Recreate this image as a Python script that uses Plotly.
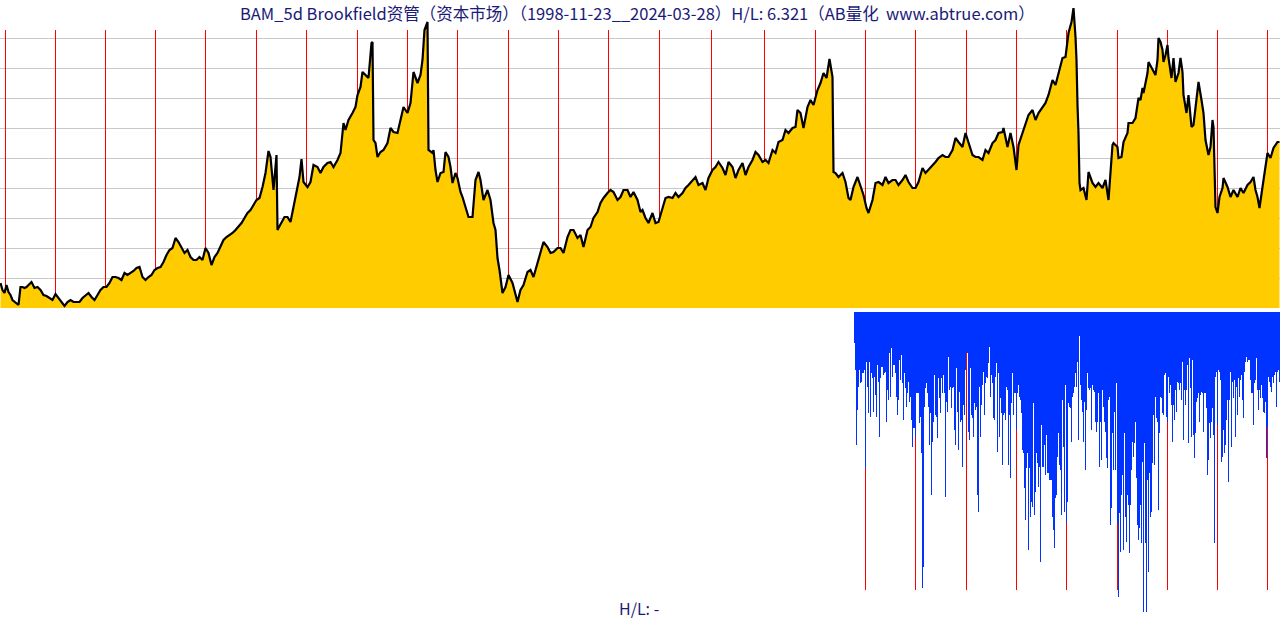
import plotly.graph_objects as go

# ---------------- data ----------------
# upper panel: 5-day bar index (0..1279) and price-index level
bar_idx = [0, 2, 4, 6, 8, 10, 12, 14, 16, 18, 20, 22, 24, 26, 28, 31, 34, 37, 40, 43, 46, 49, 52, 55, 58, 61, 64, 67, 70, 73, 76, 79, 82, 85, 88, 91, 94, 97, 100, 103, 106, 109, 112, 115, 118, 121, 124, 127, 130, 133, 136, 139, 142, 145, 148, 151, 154, 157, 160, 163, 166, 169, 172, 175, 178, 181, 184, 187, 190, 193, 196, 199, 202, 205, 208, 211, 214, 217, 220, 223, 226, 229, 232, 235, 238, 241, 244, 247, 250, 253, 256, 259, 262, 265, 268, 270, 273, 276, 277, 278, 281, 284, 287, 290, 293, 296, 299,
           301, 303, 307, 310, 313, 317, 320, 323, 327, 330, 333, 337, 340, 343, 345, 348, 352, 355, 357, 360, 362, 365, 368, 371, 372, 373, 375, 377, 380, 383, 387, 390, 393, 397, 400, 403, 407, 410, 413, 417, 420, 422, 424, 427, 428, 432, 433, 435, 437, 440, 443, 445, 448, 450, 452, 455, 457, 460, 462, 465, 468, 472, 475, 478, 480, 483, 487, 490, 493, 495, 497, 499,
           502, 505, 508, 512, 515, 517, 520, 523, 527, 530, 533, 537, 540, 543, 547, 550, 553, 557, 560, 563, 567, 570, 573, 577, 580, 583, 587, 590, 593, 597, 600, 603, 607, 610, 613, 617, 620, 623, 627, 630, 633, 637, 640, 642, 645, 648, 652, 655, 658, 662, 665, 668, 672, 675, 678, 682, 685, 688, 692, 695, 698,
           702, 705, 708, 712, 715, 718, 722, 725, 728, 732, 735, 738, 742, 745, 748, 752, 755, 758, 762, 765, 768, 772, 775, 778, 782, 785, 788, 792, 795, 797, 800, 803, 807, 810, 813, 817, 820, 823, 826, 829, 832, 833, 835, 838, 842, 845, 848, 850, 853, 857, 860, 863, 866, 868, 872, 875, 878, 882, 885, 888, 892, 895, 898,
           902, 905, 908, 912, 915, 918, 922, 925, 928, 932, 935, 938, 942, 945, 948, 952, 955, 958, 962, 965, 968, 972, 975, 978, 982, 985, 988, 992, 995, 998, 1002, 1003, 1007, 1010, 1013, 1016, 1018, 1022, 1025, 1028, 1032, 1035, 1038, 1042, 1045, 1048, 1052, 1055, 1058, 1062, 1065, 1068, 1071, 1073, 1075, 1076, 1077, 1078, 1079, 1080, 1083, 1086, 1088, 1092, 1095,
           1098, 1102, 1105, 1108, 1110, 1112, 1113, 1117, 1118, 1121, 1123, 1127, 1128, 1132, 1135, 1138, 1140, 1142, 1143, 1147, 1148, 1152, 1155, 1157, 1158, 1160, 1162, 1163, 1165, 1167, 1168, 1171, 1173, 1175, 1178, 1180, 1182, 1183, 1186, 1188, 1191, 1193, 1195, 1197, 1198, 1201, 1203, 1205, 1208, 1210, 1212, 1213, 1215, 1217, 1219, 1222, 1223, 1227, 1230, 1233, 1237, 1240, 1243, 1247, 1250, 1253, 1255, 1257, 1259, 1262, 1264, 1267, 1270, 1273, 1277, 1279]

price_level = [25, 18, 15, 23, 16, 13, 8, 6, 5, 3, 21, 21, 20, 21, 23, 26, 20, 21, 18, 13, 12, 10, 8, 14, 10, 5, 2, 6, 8, 6, 6, 6, 10, 13, 15, 11, 8, 13, 18, 21, 21, 25, 31, 31, 30, 28, 35, 33, 35, 37, 40, 41, 31, 28, 31, 33, 38, 40, 41, 46, 53, 58, 60, 70, 66, 61, 55, 58, 51, 48, 48, 51, 48, 60, 55, 43, 51, 55, 61, 68, 71, 73, 75, 78, 81, 85, 90, 95, 98, 103, 108, 110, 121, 135, 157, 151, 118, 153, 78, 80, 85, 91, 91, 86, 101, 115, 131,
               149, 126, 121, 126, 143, 141, 135, 141, 145, 146, 141, 148, 155, 185, 178, 188, 195, 201, 213, 221, 236, 233, 230, 265, 266, 168, 165, 151, 156, 158, 165, 180, 176, 175, 188, 201, 195, 205, 236, 225, 233, 248, 278, 286, 158, 155, 158, 138, 126, 135, 136, 156, 151, 141, 125, 135, 130, 116, 111, 101, 91, 91, 128, 136, 128, 108, 118, 108, 85, 78, 50, 38,
               15, 21, 33, 25, 15, 6, 18, 23, 36, 38, 31, 45, 55, 66, 61, 55, 56, 60, 60, 55, 71, 78, 78, 70, 73, 61, 78, 81, 90, 96, 105, 110, 115, 118, 116, 108, 111, 118, 118, 111, 116, 108, 96, 98, 90, 85, 95, 85, 86, 101, 110, 111, 110, 115, 111, 115, 120, 123, 128, 131, 123,
               125, 118, 130, 138, 141, 146, 140, 133, 146, 141, 130, 138, 145, 133, 141, 148, 156, 153, 146, 148, 145, 158, 155, 166, 168, 178, 175, 180, 181, 198, 195, 180, 201, 208, 203, 218, 225, 235, 230, 249, 231, 136, 135, 131, 135, 126, 110, 108, 121, 131, 121, 113, 100, 95, 108, 125, 126, 123, 131, 125, 128, 128, 123,
               128, 133, 126, 120, 120, 126, 140, 135, 138, 143, 146, 150, 153, 151, 151, 158, 170, 166, 161, 175, 166, 153, 151, 151, 148, 158, 155, 165, 168, 175, 176, 180, 161, 175, 161, 138, 163, 175, 185, 193, 198, 188, 195, 201, 205, 213, 228, 223, 236, 250, 251, 275, 286, 300, 271, 248, 203, 175, 125, 118, 120, 108, 136, 125, 121,
               125, 120, 128, 108, 135, 163, 165, 161, 150, 151, 166, 175, 185, 185, 190, 210, 208, 220, 215, 235, 246, 238, 233, 248, 270, 266, 258, 246, 253, 263, 250, 230, 250, 226, 235, 250, 236, 213, 195, 213, 181, 183, 201, 213, 226, 208, 195, 168, 153, 161, 188, 181, 101, 95, 111, 120, 130, 121, 111, 118, 111, 120, 115, 123, 126, 131, 118, 111, 100, 121, 133, 155, 150, 160, 166, 166]

# lower panel: per-bar values (depth below zero), starting at bar 854
lower_start = 854
lower_depth = [31, 58, 133, 98, 75, 58, 71, 70, 61, 61,
               58, 156, 50, 75, 101, 50, 105, 61, 66, 100,
               65, 83, 105, 53, 70, 125, 66, 55, 55, 63,
               61, 60, 110, 78, 88, 41, 85, 36, 65, 53,
               53, 61, 85, 103, 88, 48, 68, 43, 71, 108,
               61, 76, 95, 81, 70, 90, 85, 108, 135, 116,
               116, 125, 81, 81, 81, 111, 105, 141, 276, 255,
               95, 76, 71, 81, 95, 133, 101, 183, 130, 110,
               63, 103, 105, 126, 66, 86, 101, 66, 81, 63,
               81, 185, 90, 100, 45, 78, 75, 96, 76, 75,
               118, 133, 56, 100, 138, 80, 110, 108, 155, 93,
               103, 58, 41, 41, 120, 128, 56, 103, 106, 125,
               91, 98, 95, 183, 200, 75, 125, 93, 73, 60,
               103, 71, 65, 66, 51, 35, 85, 63, 71, 106,
               108, 65, 51, 140, 61, 125, 86, 101, 153, 103,
               101, 108, 75, 78, 153, 103, 166, 91, 61, 103,
               81, 81, 118, 81, 73, 85, 88, 101, 138, 141,
               176, 208, 156, 141, 238, 156, 205, 190, 195, 91,
               203, 180, 141, 151, 175, 155, 250, 113, 155, 155,
               133, 163, 123, 161, 161, 168, 168, 168, 205, 218,
               236, 186, 183, 145, 121, 153, 158, 203, 88, 135,
               200, 73, 211, 190, 91, 95, 96, 130, 85, 81,
               75, 61, 75, 50, 128, 24, 73, 88, 100, 130,
               90, 158, 98, 61, 76, 78, 76, 118, 73, 78,
               80, 110, 120, 110, 81, 155, 110, 148, 78, 95,
               110, 120, 146, 156, 88, 85, 213, 196, 121, 158,
               100, 158, 71, 211, 285, 201, 240, 183, 163, 238,
               121, 205, 230, 183, 193, 241, 193, 158, 130, 145,
               131, 110, 166, 213, 228, 216, 193, 231, 150, 300,
               131, 231, 300, 168, 260, 161, 205, 200, 151, 103,
               153, 85, 106, 110, 198, 121, 85, 86, 101, 103,
               63, 61, 105, 110, 65, 81, 73, 93, 130, 93,
               108, 78, 100, 70, 71, 78, 71, 88, 50, 128,
               78, 93, 78, 53, 131, 46, 76, 125, 48, 123,
               146, 121, 90, 86, 81, 110, 83, 80, 81, 120,
               81, 81, 96, 163, 148, 111, 126, 110, 96, 123,
               231, 65, 60, 113, 58, 60, 68, 150, 145, 118,
               141, 133, 108, 88, 170, 88, 60, 135, 70, 86,
               68, 125, 75, 103, 66, 85, 68, 63, 88, 106,
               60, 50, 45, 50, 48, 48, 68, 81, 81, 113,
               71, 68, 46, 78, 98, 78, 86, 73, 86, 100,
               101, 90, 146, 115, 65, 70, 75, 80, 65, 71,
               63, 60, 95, 60, 58, 70]

# first bar of each calendar year 1999..2024
year_start_bars = [5, 55, 105, 155, 205, 256, 306, 357, 407, 457, 508, 558, 608, 659,
                   711, 764, 815, 865, 915, 966, 1016, 1066, 1117, 1167, 1217, 1267]

grid_levels = [30, 60, 90, 120, 150, 180, 210, 240, 270]

title_text = "BAM_5d Brookfield资管（资本市场）（1998-11-23__2024-03-28）H/L: 6.321（AB量化  www.abtrue.com）"
bottom_text = "H/L: -"

# ---------------- figure ----------------
W, H = 1280, 620
TXT = "#1a1a78"
FONT = "Noto Sans CJK SC"

fig = go.Figure()

fig.add_trace(go.Scatter(
    x=[i + 0.5 for i in bar_idx], y=price_level,
    mode="lines", fill="tozeroy", fillcolor="#ffcc00",
    line=dict(color="black", width=2.2),
    xaxis="x", yaxis="y", hoverinfo="skip", showlegend=False))

lower_x = [lower_start + k + 0.5 for k in range(len(lower_depth))]
fig.add_trace(go.Bar(
    x=lower_x, y=[-d for d in lower_depth], width=1,
    marker=dict(color="#0033ff", line=dict(width=0)),
    xaxis="x2", yaxis="y2", hoverinfo="skip", showlegend=False))

shapes = []
for b in year_start_bars:
    shapes.append(dict(type="line", xref="x", yref="y", x0=b + 0.5, x1=b + 0.5, y0=0, y1=278,
                       line=dict(color="#ff0000", width=1), layer="between"))
    if b >= lower_start:
        shapes.append(dict(type="line", xref="x2", yref="y2", x0=b + 0.5, x1=b + 0.5, y0=0, y1=-278,
                           line=dict(color="#ff0000", width=1), layer="below"))

fig.update_layout(
    width=W, height=H,
    margin=dict(l=0, r=0, t=0, b=0),
    paper_bgcolor="white", plot_bgcolor="rgba(0,0,0,0)",
    bargap=0,
    xaxis=dict(domain=[0, 1], range=[0, 1280], visible=False, fixedrange=True),
    yaxis=dict(domain=[1 - 308 / H, 1 - 8 / H], range=[0, 300],
               tickvals=grid_levels, showticklabels=False, ticks="",
               showgrid=True, gridcolor="#c8c8c8", gridwidth=1,
               zeroline=False, showline=False, fixedrange=True),
    xaxis2=dict(domain=[0, 1], range=[0, 1280], visible=False, anchor="y2", fixedrange=True),
    yaxis2=dict(domain=[1 - 612 / H, 1 - 312 / H], range=[-300, 0], visible=False,
                anchor="x2", fixedrange=True),
    shapes=shapes,
    annotations=[
        dict(text=title_text, xref="paper", yref="paper", x=637 / W, y=1 - 13 / H,
             xanchor="center", yanchor="middle", showarrow=False,
             font=dict(family=FONT, size=16.5, color=TXT)),
        dict(text=bottom_text, xref="paper", yref="paper", x=639 / W, y=0,
             xanchor="center", yanchor="bottom", yshift=-2, showarrow=False,
             font=dict(family=FONT, size=16, color=TXT)),
    ],
)

fig.write_html("out.html")
